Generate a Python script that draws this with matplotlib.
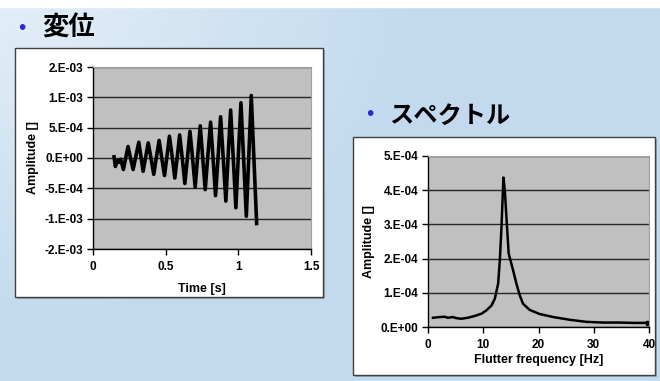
import numpy as np
import matplotlib
matplotlib.use("Agg")
import matplotlib.pyplot as plt
from matplotlib.patches import Rectangle

plt.rcParams['font.family'] = ['Liberation Sans', 'Noto Sans CJK JP', 'DejaVu Sans']

# displacement history
disp_time = [0.145, 0.154, 0.168, 0.182, 0.191, 0.209, 0.225, 0.241, 0.258, 0.276,
             0.295, 0.315, 0.330, 0.345, 0.362, 0.380, 0.399, 0.418, 0.436, 0.455,
             0.473, 0.492, 0.509, 0.526, 0.545, 0.563, 0.580, 0.596, 0.614, 0.632,
             0.650, 0.667, 0.685, 0.703, 0.720, 0.738, 0.755, 0.772, 0.790, 0.809,
             0.826, 0.843, 0.861, 0.878, 0.896, 0.914, 0.930, 0.947, 0.965, 0.983,
             1.000, 1.018, 1.036, 1.055, 1.072, 1.089, 1.107, 1.126]
disp_amp = [0.2e-4, -1.4e-4, -0.4e-4, -0.7e-4, -0.2e-4, -1.9e-4, 0.0, 1.9e-4, 0.0, -1.9e-4,
            0.3e-4, 2.6e-4, 0.2e-4, -2.2e-4, 0.1e-4, 2.5e-4, 0.0, -2.7e-4, 0.1e-4, 2.9e-4,
            0.0, -2.9e-4, 0.3e-4, 3.6e-4, 0.2e-4, -3.3e-4, 0.2e-4, 3.8e-4, 0.0, -4.2e-4,
            0.1e-4, 4.4e-4, 0.0, -4.8e-4, 0.2e-4, 5.3e-4, 0.0, -5.2e-4, 0.3e-4, 5.9e-4,
            0.0, -6.2e-4, 0.3e-4, 6.8e-4, 0.0, -7.1e-4, 0.4e-4, 7.9e-4, 0.0, -8.2e-4,
            0.4e-4, 9.1e-4, 0.0, -9.6e-4, 0.3e-4, 10.3e-4, 0.0, -10.8e-4]

# spectrum
freq = [0.9, 2.1, 3.0, 3.6, 4.5, 5.1, 6.0, 7.2, 8.4, 9.7, 10.6, 11.5, 12.1, 12.7, 13.0,
        13.3, 13.65, 13.9, 14.2, 14.6, 15.4, 16.0, 16.6, 17.2, 18.4, 20.2, 22.7, 25.7,
        28.7, 31.7, 34.7, 37.1, 39.8]
spec = [0.27e-4, 0.29e-4, 0.30e-4, 0.27e-4, 0.29e-4, 0.26e-4, 0.24e-4, 0.27e-4, 0.32e-4,
        0.39e-4, 0.49e-4, 0.63e-4, 0.83e-4, 1.27e-4, 1.95e-4, 2.92e-4, 4.37e-4, 4.0e-4,
        3.2e-4, 2.15e-4, 1.66e-4, 1.27e-4, 0.93e-4, 0.68e-4, 0.50e-4, 0.38e-4, 0.29e-4,
        0.21e-4, 0.15e-4, 0.13e-4, 0.13e-4, 0.12e-4, 0.12e-4]

disp_yticks = [-1.5e-3, -1e-3, -5e-4, 0, 5e-4, 1e-3, 1.5e-3]
disp_yticklabels = ['-2.E-03', '-1.E-03', '-5.E-04', '0.E+00', '5.E-04', '1.E-03', '2.E-03']
disp_xticks = [0, 0.5, 1, 1.5]
disp_xticklabels = ['0', '0.5', '1', '1.5']
spec_yticks = [0, 1e-4, 2e-4, 3e-4, 4e-4, 5e-4]
spec_yticklabels = ['0.E+00', '1.E-04', '2.E-04', '3.E-04', '4.E-04', '5.E-04']
spec_xticks = [0, 10, 20, 30, 40]

W, H = 660, 381
fig = plt.figure(figsize=(6.6, 3.81), dpi=100)

# slide background gradient
bg = fig.add_axes([0, 0, 1, 1])
yy, xx = np.mgrid[0:1:200j, 0:1:300j]
d = np.clip(np.sqrt((xx * 1.2) ** 2 + (yy * 0.9) ** 2) / 0.75, 0, 1)
c1 = np.array([0.89, 0.935, 0.97])
c2 = np.array([0.765, 0.858, 0.937])
img = c1 + (c2 - c1) * d[..., None]
bg.imshow(img, extent=[0, 1, 0, 1], origin='upper', aspect='auto')
bg.axhspan(1 - 7 / H, 1, color='white')
bg.set_xlim(0, 1)
bg.set_ylim(0, 1)
bg.axis('off')


def box(x0, y0, x1, y1):
    # white chart frame with a small shadow, pixel coords from top-left
    bg.add_patch(Rectangle(((x0 + 2) / W, 1 - (y1 + 2) / H), (x1 - x0) / W, (y1 - y0) / H,
                           facecolor='#7f8a95', edgecolor='none', alpha=0.6))
    bg.add_patch(Rectangle((x0 / W, 1 - y1 / H), (x1 - x0) / W, (y1 - y0) / H,
                           facecolor='white', edgecolor='#404040', linewidth=1))


box(15, 48, 323, 297)
box(353, 137, 655, 375)

# titles
bg.text(22 / W, 1 - 29 / H, '•', color='#2b2bcc', fontsize=15, ha='center', va='center')
bg.text(42 / W, 1 - 28 / H, '変位', fontsize=19, fontweight='bold', va='center',
        family=['Noto Sans CJK JP'])
bg.text(370 / W, 1 - 114 / H, '•', color='#2b2bcc', fontsize=15, ha='center', va='center')
bg.text(389 / W, 1 - 116 / H, 'スペクトル', fontsize=17.5, fontweight='bold', va='center',
        family=['Noto Sans CJK JP'])


def style(ax):
    ax.set_facecolor('#c0c0c0')
    ax.grid(True, axis='y', color='#262626', linewidth=1)
    ax.set_axisbelow(True)
    for s in ['top', 'right']:
        ax.spines[s].set_color('#a0a0a0')
        ax.spines[s].set_linewidth(0.8)
    for s in ['left', 'bottom']:
        ax.spines[s].set_color('black')
        ax.spines[s].set_linewidth(1)
    ax.tick_params(direction='out', length=4, width=1, labelsize=8.5, pad=3)
    ax.tick_params(axis='x', pad=5)
    for lab in ax.get_xticklabels() + ax.get_yticklabels():
        lab.set_fontweight('bold')


# displacement chart
ax1 = fig.add_axes([93 / W, 1 - 249 / H, 218 / W, 182 / H])
ax1.plot(disp_time, disp_amp, color='black', linewidth=2.6, solid_joinstyle='round')
ax1.set_xlim(0, 1.5)
ax1.set_ylim(-1.5e-3, 1.5e-3)
ax1.set_xticks(disp_xticks)
ax1.set_xticklabels(disp_xticklabels)
ax1.set_yticks(disp_yticks)
ax1.set_yticklabels(disp_yticklabels)
style(ax1)
ax1.set_xlabel('Time [s]', fontsize=9, fontweight='bold', labelpad=7)
ax1.set_ylabel('Amplitude []', fontsize=9, fontweight='bold', labelpad=4)

# spectrum chart
ax2 = fig.add_axes([428 / W, 1 - 327 / H, 221 / W, 171 / H])
ax2.plot(freq, spec, color='black', linewidth=1.8)
ax2.plot(freq[-1:], spec[-1:], 's', color='black', markersize=3)
ax2.set_xlim(0, 40)
ax2.set_ylim(0, 5e-4)
ax2.set_xticks(spec_xticks)
ax2.set_yticks(spec_yticks)
ax2.set_yticklabels(spec_yticklabels)
style(ax2)
ax2.set_xlabel('Flutter frequency [Hz]', fontsize=9, fontweight='bold', labelpad=2)
ax2.set_ylabel('Amplitude []', fontsize=9, fontweight='bold', labelpad=4)

fig.savefig('out.png', dpi=100)
